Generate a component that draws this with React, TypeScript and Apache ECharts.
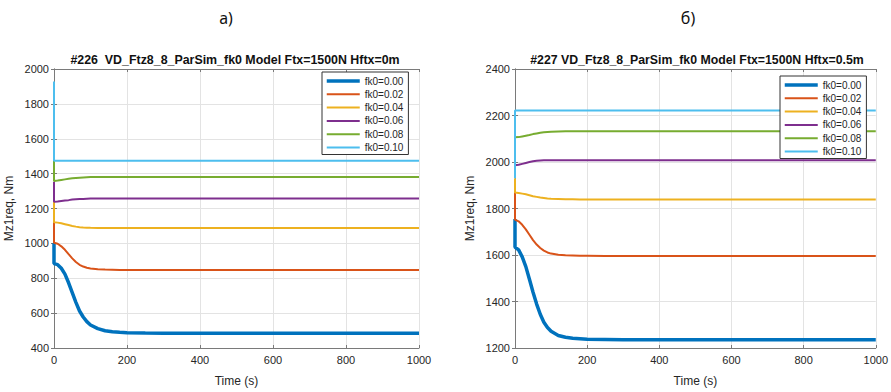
import React, { useEffect, useRef } from "react";
import * as echarts from "echarts";

const FONT = "Liberation Sans, Arial, sans-serif";

const seriesNames = ["fk0=0.00", "fk0=0.02", "fk0=0.04", "fk0=0.06", "fk0=0.08", "fk0=0.10"];
const seriesColors = ["#0072BD", "#D95319", "#EDB120", "#7E2F8E", "#77AC30", "#4DBEEE"];
const seriesWidths = [3.5, 2, 2, 2, 2, 2];

const xTicks = [0, 200, 400, 600, 800, 1000];

// time samples (s); the first two samples at t=0 form the initial jump
const timeS = [0, 0, 10, 20, 30, 40, 50, 60, 70, 80, 90, 100, 120, 140, 160, 180, 200, 250, 300, 1000];

// Plot a) #226 Hftx=0m
const leftTitle = "#226  VD_Ftz8_8_ParSim_fk0 Model Ftx=1500N Hftx=0m";
const leftYMin = 400;
const leftYMax = 2000;
const leftFk000 = [1002, 884, 878, 857, 824, 774, 718, 662, 612, 578, 551, 532, 511, 499, 493, 490, 488, 486, 485, 485];
const leftFk002 = [1121, 1004, 998, 983, 963, 938, 914, 893, 877, 867, 860, 856, 852, 850, 849, 848, 848, 848, 848, 848];
const leftFk004 = [1238, 1121, 1119, 1115, 1110, 1105, 1100, 1096, 1093, 1091, 1090, 1089, 1088, 1088, 1088, 1088, 1088, 1088, 1088, 1088];
const leftFk006 = [1353, 1238, 1240, 1243, 1246, 1248, 1251, 1253, 1254, 1255, 1256, 1257, 1258, 1258, 1258, 1258, 1258, 1258, 1258, 1258];
const leftFk008 = [1474, 1358, 1360, 1364, 1367, 1370, 1373, 1375, 1377, 1378, 1379, 1380, 1381, 1381, 1381, 1381, 1381, 1381, 1381, 1381];
const leftFk010 = [1929, 1474, 1474, 1474, 1474, 1474, 1474, 1474, 1474, 1474, 1474, 1474, 1474, 1474, 1474, 1474, 1474, 1474, 1474, 1474];

// Plot б) #227 Hftx=0.5m
const rightTitle = "#227 VD_Ftz8_8_ParSim_fk0 Model Ftx=1500N Hftx=0.5m";
const rightYMin = 1200;
const rightYMax = 2400;
const rightFk000 = [1755, 1634, 1622, 1592, 1550, 1496, 1440, 1389, 1345, 1311, 1288, 1272, 1254, 1246, 1242, 1240, 1238, 1237, 1236, 1236];
const rightFk002 = [1870, 1752, 1745, 1730, 1710, 1687, 1664, 1645, 1630, 1619, 1611, 1606, 1601, 1599, 1598, 1597, 1597, 1596, 1596, 1596];
const rightFk004 = [1930, 1869, 1867, 1864, 1861, 1857, 1853, 1850, 1847, 1845, 1843, 1842, 1841, 1840, 1840, 1839, 1839, 1839, 1839, 1839];
const rightFk006 = [1986, 1986, 1988, 1992, 1996, 2000, 2003, 2005, 2006, 2007, 2007, 2007, 2008, 2008, 2008, 2008, 2008, 2008, 2008, 2008];
const rightFk008 = [2106, 2106, 2107, 2110, 2113, 2116, 2120, 2123, 2126, 2128, 2129, 2130, 2131, 2132, 2132, 2132, 2132, 2132, 2132, 2132];
const rightFk010 = [1930, 2222, 2222, 2222, 2222, 2222, 2222, 2222, 2222, 2222, 2222, 2222, 2222, 2222, 2222, 2222, 2222, 2222, 2222, 2222];

const leftData = [leftFk000, leftFk002, leftFk004, leftFk006, leftFk008, leftFk010];
const rightData = [rightFk000, rightFk002, rightFk004, rightFk006, rightFk008, rightFk010];

const AXIS_COLOR = "#7a7a7a";
const TEXT_COLOR = "#262626";

function makeX(gridIndex: number, top: boolean) {
  return {
    type: "value",
    gridIndex,
    position: top ? "top" : "bottom",
    min: xTicks[0],
    max: xTicks[xTicks.length - 1],
    interval: xTicks[1] - xTicks[0],
    name: top ? "" : "Time (s)",
    nameLocation: "middle",
    nameGap: 27,
    nameTextStyle: { color: TEXT_COLOR, fontSize: 12, fontFamily: FONT },
    axisLine: { show: true, lineStyle: { color: AXIS_COLOR, width: 1 } },
    axisTick: { show: true, inside: true, length: 3, lineStyle: { color: AXIS_COLOR } },
    axisLabel: { show: !top, color: TEXT_COLOR, fontSize: 11, margin: 6, fontFamily: FONT, formatter: (v: number) => String(v) },
    splitLine: { show: !top, lineStyle: { color: "#e3e3e3", width: 1 } },
  };
}

function makeY(gridIndex: number, right: boolean, min: number, max: number) {
  return {
    type: "value",
    gridIndex,
    position: right ? "right" : "left",
    min,
    max,
    interval: 200,
    name: right ? "" : "Mz1req, Nm",
    nameLocation: "middle",
    nameGap: 39,
    nameTextStyle: { color: TEXT_COLOR, fontSize: 12, fontFamily: FONT },
    axisLine: { show: true, lineStyle: { color: AXIS_COLOR, width: 1 } },
    axisTick: { show: true, inside: true, length: 3, lineStyle: { color: AXIS_COLOR } },
    axisLabel: { show: !right, color: TEXT_COLOR, fontSize: 11, margin: 5, fontFamily: FONT, formatter: (v: number) => String(v) },
    splitLine: { show: !right, lineStyle: { color: "#e3e3e3", width: 1 } },
  };
}

function makeSeries(data: number[][], xIdx: number, yIdx: number) {
  return data.map((vals, i) => ({
    type: "line",
    name: seriesNames[i],
    xAxisIndex: xIdx,
    yAxisIndex: yIdx,
    data: timeS.map((t, k) => [t, vals[k]]),
    symbol: "none",
    smooth: false,
    clip: true,
    color: seriesColors[i],
    lineStyle: { color: seriesColors[i], width: seriesWidths[i] },
  }));
}

function makeLegend(left: number, top: number) {
  return {
    orient: "vertical",
    left,
    top,
    z: 10,
    data: seriesNames.map((n, i) => ({
      name: n,
      lineStyle: { color: seriesColors[i], width: seriesWidths[i] },
    })),
    itemWidth: 33,
    itemHeight: 12,
    itemGap: 1.3,
    padding: [3, 5, 1, 3],
    borderColor: "#333333",
    borderWidth: 1,
    borderRadius: 0,
    backgroundColor: "#ffffff",
    selectedMode: false,
    itemStyle: { color: "transparent", borderWidth: 0, opacity: 0 },
    textStyle: { color: TEXT_COLOR, fontSize: 10, fontFamily: FONT, lineHeight: 12 },
  };
}

export default function App() {
  const ref = useRef<HTMLDivElement>(null);
  useEffect(() => {
    if (!ref.current) return;
    const chart = echarts.init(ref.current, null, { renderer: "svg" });
    chart.setOption({
      animation: false,
      backgroundColor: "#ffffff",
      grid: [
        { left: 54, top: 69, width: 365, height: 287 },
        { left: 515, top: 69, width: 365, height: 287 },
      ],
      xAxis: [makeX(0, false), makeX(0, true), makeX(1, false), makeX(1, true)],
      yAxis: [
        makeY(0, false, leftYMin, leftYMax),
        makeY(0, true, leftYMin, leftYMax),
        makeY(1, false, rightYMin, rightYMax),
        makeY(1, true, rightYMin, rightYMax),
      ],
      legend: [makeLegend(322, 72), makeLegend(780, 76)],
      series: [...makeSeries(leftData, 0, 0), ...makeSeries(rightData, 2, 2)],
      graphic: [
        {
          type: "text",
          x: 226,
          y: 18,
          style: { text: "а)", fill: "#111", font: "16px 'Noto Sans', sans-serif", textAlign: "center", textVerticalAlign: "middle" },
        },
        {
          type: "text",
          x: 688,
          y: 18,
          style: { text: "б)", fill: "#111", font: "16px 'Noto Sans', sans-serif", textAlign: "center", textVerticalAlign: "middle" },
        },
        {
          type: "text",
          x: 235,
          y: 60,
          style: { text: leftTitle, fill: "#111", font: `bold 12.4px ${FONT}`, textAlign: "center", textVerticalAlign: "middle" },
        },
        {
          type: "text",
          x: 697,
          y: 60,
          style: { text: rightTitle, fill: "#111", font: `bold 12.3px ${FONT}`, textAlign: "center", textVerticalAlign: "middle" },
        },
      ],
    });
    return () => chart.dispose();
  }, []);
  return <div ref={ref} style={{ position: "absolute", left: 0, top: 0, width: 891, height: 392 }} />;
}
